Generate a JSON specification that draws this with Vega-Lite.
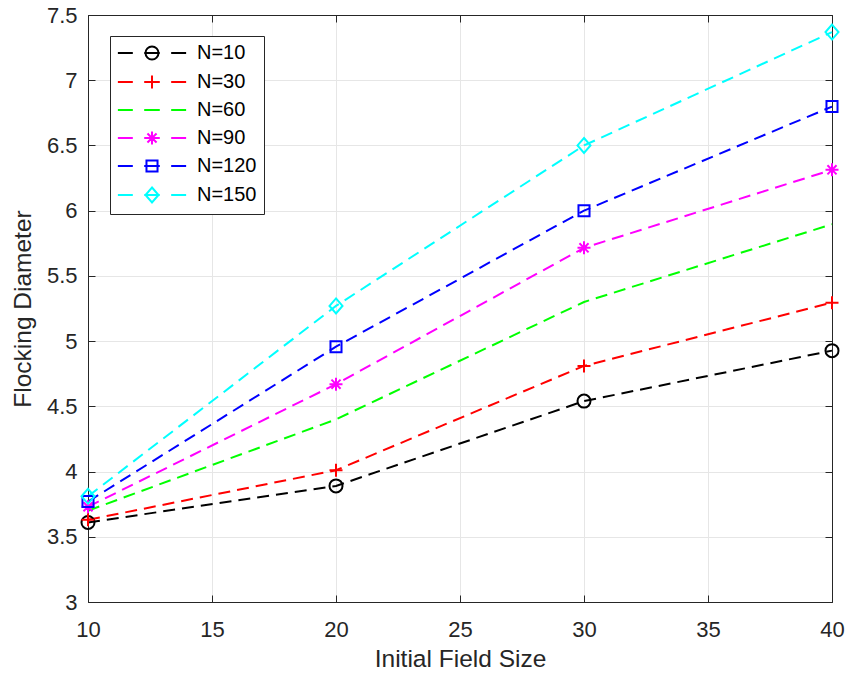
{
  "$schema": "https://vega.github.io/schema/vega-lite/v6.json",
  "width": 744,
  "height": 587,
  "autosize": {"type": "none"},
  "padding": {"left": 88, "top": 15, "right": 14, "bottom": 74},
  "background": "white",
  "config": {
    "view": {"stroke": "#262626", "strokeWidth": 1},
    "font": "Liberation Sans",
    "axis": {
      "labelFont": "Liberation Sans",
      "titleFont": "Liberation Sans",
      "labelColor": "#262626",
      "titleColor": "#262626",
      "titleFontWeight": "normal",
      "domainColor": "#262626",
      "tickColor": "#262626",
      "gridColor": "#e6e6e6",
      "gridOpacity": 1
    }
  },
  "data": {
    "values": [
      {"series": "N=10", "size": 10, "diameter": 3.61},
      {"series": "N=10", "size": 20, "diameter": 3.89},
      {"series": "N=10", "size": 30, "diameter": 4.54},
      {"series": "N=10", "size": 40, "diameter": 4.927},
      {"series": "N=30", "size": 10, "diameter": 3.63},
      {"series": "N=30", "size": 20, "diameter": 4.01},
      {"series": "N=30", "size": 30, "diameter": 4.81},
      {"series": "N=30", "size": 40, "diameter": 5.295},
      {"series": "N=60", "size": 10, "diameter": 3.7},
      {"series": "N=60", "size": 20, "diameter": 4.4},
      {"series": "N=60", "size": 30, "diameter": 5.3},
      {"series": "N=60", "size": 40, "diameter": 5.896},
      {"series": "N=90", "size": 10, "diameter": 3.73},
      {"series": "N=90", "size": 20, "diameter": 4.67},
      {"series": "N=90", "size": 30, "diameter": 5.715},
      {"series": "N=90", "size": 40, "diameter": 6.313},
      {"series": "N=120", "size": 10, "diameter": 3.77},
      {"series": "N=120", "size": 20, "diameter": 4.957},
      {"series": "N=120", "size": 30, "diameter": 6.0},
      {"series": "N=120", "size": 40, "diameter": 6.798},
      {"series": "N=150", "size": 10, "diameter": 3.81},
      {"series": "N=150", "size": 20, "diameter": 5.27},
      {"series": "N=150", "size": 30, "diameter": 6.5},
      {"series": "N=150", "size": 40, "diameter": 7.369}
    ]
  },
  "resolve": {
    "scale": {"x": "independent", "y": "independent", "color": "independent", "shape": "independent"},
    "axis": {"x": "independent", "y": "independent"},
    "legend": {"color": "independent", "shape": "independent"}
  },
  "layer": [
    {
      "mark": {"type": "line", "strokeWidth": 2, "strokeDash": [12, 7]},
      "encoding": {
        "x": {
          "field": "size", "type": "quantitative",
          "scale": {"domain": [10, 40], "nice": false, "zero": false},
          "axis": {
            "orient": "bottom", "title": "Initial Field Size",
            "values": [10, 15, 20, 25, 30, 35, 40],
            "labelFontSize": 22, "titleFontSize": 24.5,
            "labelPadding": 24, "titlePadding": 7,
            "tickSize": -7, "grid": true, "labelFlush": false
          }
        },
        "y": {
          "field": "diameter", "type": "quantitative",
          "scale": {"domain": [3, 7.5], "nice": false, "zero": false},
          "axis": {
            "orient": "left", "title": "Flocking Diameter",
            "values": [3, 3.5, 4, 4.5, 5, 5.5, 6, 6.5, 7, 7.5],
            "format": "~g",
            "labelFontSize": 22, "titleFontSize": 24.5,
            "labelPadding": 18, "titlePadding": 11,
            "tickSize": -7, "grid": true, "labelFlush": false
          }
        },
        "color": {
          "field": "series", "type": "nominal",
          "scale": {
            "domain": ["N=10", "N=30", "N=60", "N=90", "N=120", "N=150"],
            "range": ["#000000", "#ff0000", "#00ff00", "#ff00ff", "#0000ff", "#00ffff"]
          },
          "legend": null
        },
        "detail": {"field": "series"}
      }
    },
    {
      "transform": [{"filter": "datum.series !== 'N=60'"}],
      "mark": {"type": "point", "filled": false, "size": 169, "strokeWidth": 2, "opacity": 1},
      "encoding": {
        "x": {"field": "size", "type": "quantitative", "scale": {"domain": [10, 40], "nice": false, "zero": false}, "axis": null},
        "y": {"field": "diameter", "type": "quantitative", "scale": {"domain": [3, 7.5], "nice": false, "zero": false}, "axis": null},
        "color": {
          "field": "series", "type": "nominal",
          "scale": {
            "domain": ["N=10", "N=30", "N=90", "N=120", "N=150"],
            "range": ["#000000", "#ff0000", "#ff00ff", "#0000ff", "#00ffff"]
          },
          "legend": null
        },
        "shape": {
          "field": "series", "type": "nominal",
          "scale": {
            "domain": ["N=10", "N=30", "N=90", "N=120", "N=150"],
            "range": [
              "M1,0A1,1,0,1,1,-1,0A1,1,0,1,1,1,0Z",
              "M-1,0L1,0M0,-1L0,1",
              "M-1,0L1,0M0,-1L0,1M-0.7,-0.7L0.7,0.7M-0.7,0.7L0.7,-0.7",
              "M-0.85,-0.85L0.85,-0.85L0.85,0.85L-0.85,0.85Z",
              "M0,-1.15L1,0L0,1.15L-1,0Z"
            ]
          },
          "legend": null
        }
      }
    },
    {
      "mark": {"type": "point", "filled": false, "size": 169, "strokeWidth": 2, "opacity": 0},
      "encoding": {
        "x": {
          "field": "size", "type": "quantitative",
          "scale": {"domain": [10, 40], "nice": false, "zero": false},
          "axis": {"orient": "top", "title": null, "labels": false, "grid": false, "tickSize": -7, "values": [10, 15, 20, 25, 30, 35, 40]}
        },
        "y": {
          "field": "diameter", "type": "quantitative",
          "scale": {"domain": [3, 7.5], "nice": false, "zero": false},
          "axis": {"orient": "right", "title": null, "labels": false, "grid": false, "tickSize": -7, "values": [3, 3.5, 4, 4.5, 5, 5.5, 6, 6.5, 7, 7.5]}
        },
        "color": {
          "field": "series", "type": "nominal",
          "scale": {
            "domain": ["N=10", "N=30", "N=60", "N=90", "N=120", "N=150"],
            "range": ["#000000", "#ff0000", "#00ff00", "#ff00ff", "#0000ff", "#00ffff"]
          },
          "legend": {
            "title": null, "orient": "none", "legendX": 22, "legendY": 21,
            "strokeColor": "#262626", "fillColor": "white", "padding": 7,
            "labelFont": "Liberation Sans", "labelFontSize": 20, "labelColor": "#000000",
            "symbolOffset": 25, "labelOffset": 35, "rowPadding": 7,
            "symbolStrokeWidth": 2, "symbolOpacity": 1, "symbolSize": 169
          }
        },
        "shape": {
          "field": "series", "type": "nominal",
          "scale": {
            "domain": ["N=10", "N=30", "N=60", "N=90", "N=120", "N=150"],
            "range": [
              "M-5.25,0L-2.95,0M-1.2,0L1.2,0M2.95,0L5.25,0M1,0A1,1,0,1,1,-1,0A1,1,0,1,1,1,0Z",
              "M-5.25,0L-2.95,0M-1.2,0L1.2,0M2.95,0L5.25,0M0,-1L0,1",
              "M-5.25,0L-2.95,0M-1.2,0L1.2,0M2.95,0L5.25,0",
              "M-5.25,0L-2.95,0M-1.2,0L1.2,0M2.95,0L5.25,0M0,-1L0,1M-0.7,-0.7L0.7,0.7M-0.7,0.7L0.7,-0.7",
              "M-5.25,0L-2.95,0M-1.2,0L1.2,0M2.95,0L5.25,0M-0.85,-0.85L0.85,-0.85L0.85,0.85L-0.85,0.85Z",
              "M-5.25,0L-2.95,0M-1.2,0L1.2,0M2.95,0L5.25,0M0,-1.15L1,0L0,1.15L-1,0Z"
            ]
          },
          "legend": {
            "title": null, "orient": "none", "legendX": 22, "legendY": 21,
            "strokeColor": "#262626", "fillColor": "white", "padding": 7,
            "labelFont": "Liberation Sans", "labelFontSize": 20, "labelColor": "#000000",
            "symbolOffset": 25, "labelOffset": 35, "rowPadding": 7,
            "symbolStrokeWidth": 2, "symbolOpacity": 1, "symbolSize": 169
          }
        }
      }
    }
  ]
}
